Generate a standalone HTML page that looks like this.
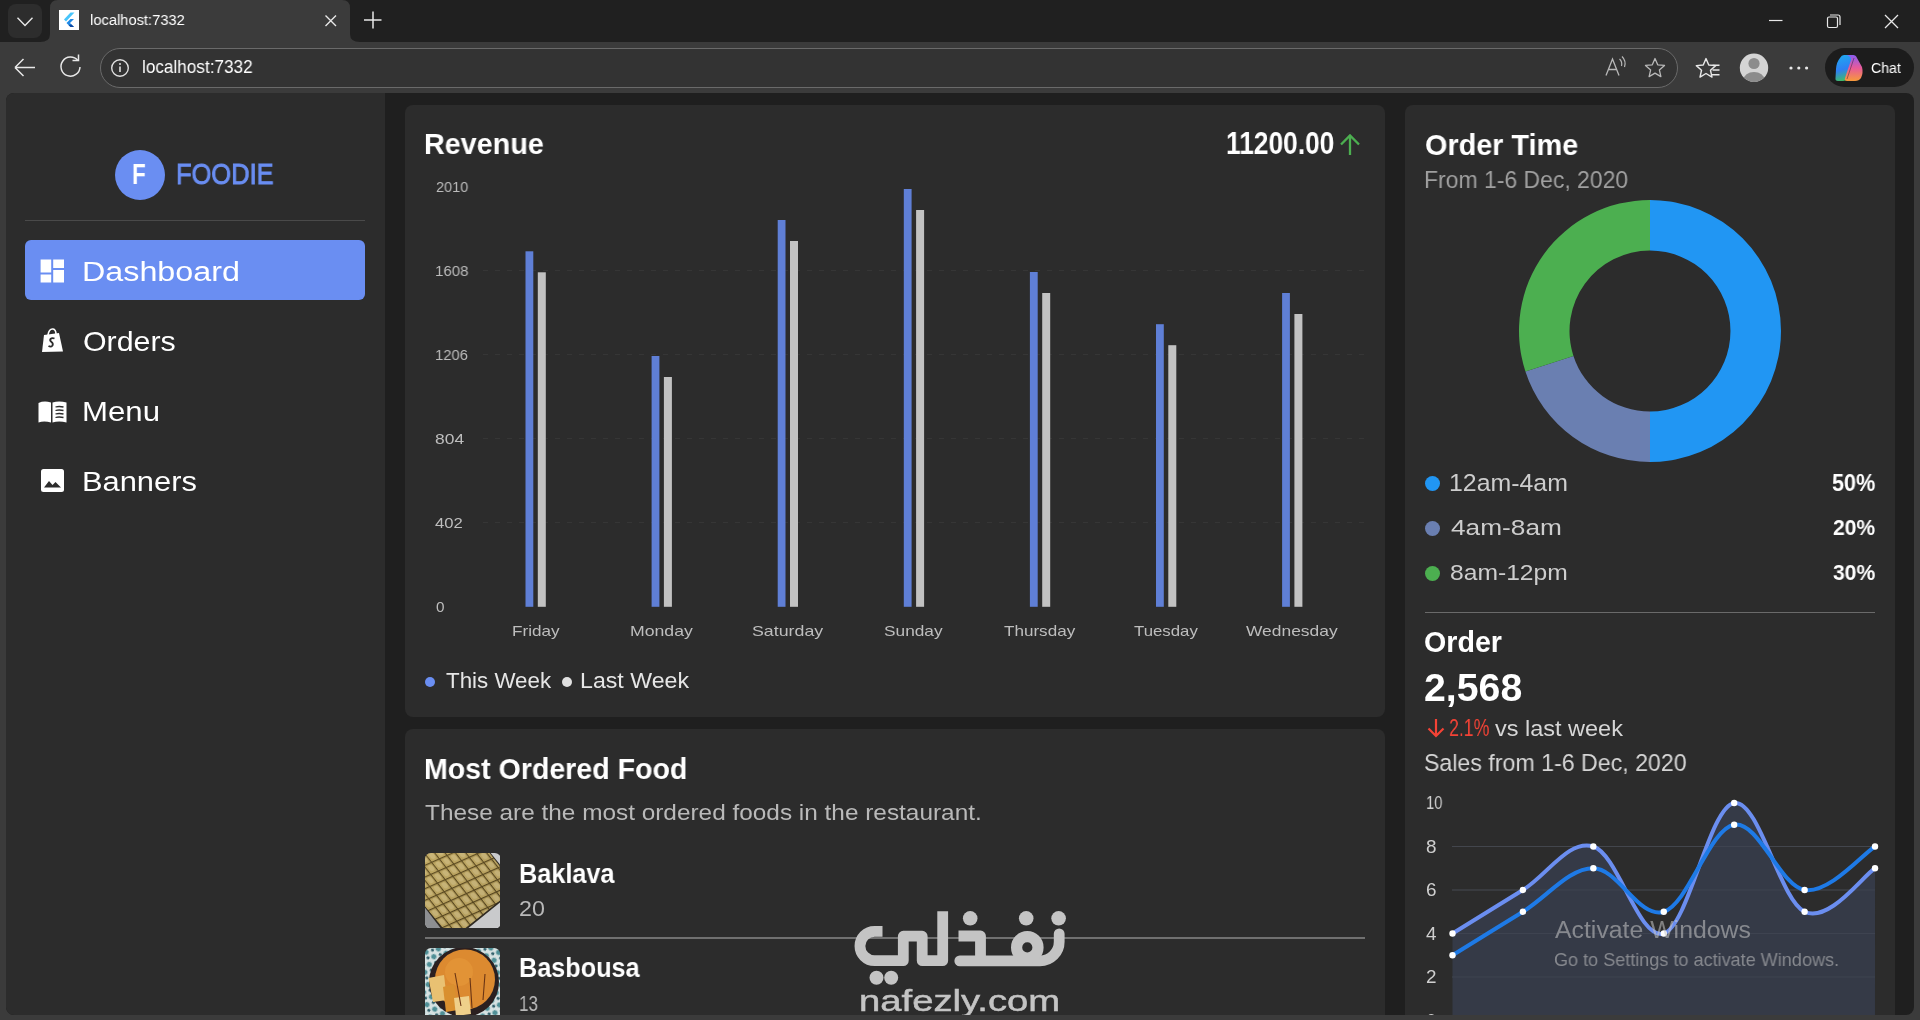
<!DOCTYPE html>
<html><head><meta charset="utf-8"><style>
html,body{margin:0;padding:0;width:1920px;height:1020px;overflow:hidden;background:#3b3b3b}
body{font-family:"Liberation Sans",sans-serif;position:relative}
.abs{position:absolute}
.t{position:absolute;white-space:nowrap;transform-origin:0 0;will-change:transform}
svg{display:block}
</style></head><body>
<div class="abs" style="left:0;top:0;width:1920px;height:42px;background:#202020"></div>
<div class="abs" style="left:0;top:42px;width:1920px;height:978px;background:#3b3b3b"></div>
<div class="abs" style="left:8px;top:4px;width:34px;height:34px;border-radius:8px;background:#2d2d2d"></div>
<svg class="abs" style="left:0;top:0" width="60" height="42"><path d="M17.5 17.8 L25 25.5 L32.5 17.8" fill="none" stroke="#e8e8e8" stroke-width="1.4"/></svg>
<svg class="abs" style="left:40px;top:0" width="320" height="42"><path d="M0 42 Q10 42 10 34 L10 8 Q10 0 18 0 L302 0 Q310 0 310 8 L310 34 Q310 42 320 42 Z" fill="#3b3b3b"/></svg>
<div class="abs" style="left:59px;top:10px;width:20px;height:20px;background:#fff"></div>
<svg class="abs" style="left:59px;top:10px" width="20" height="20"><path d="M11.5 2.5 L5 9.5 L7 11.5 L15.5 2.5 Z" fill="#47c5fb"/><path d="M11.5 9 L7.5 13 L11.5 17 L15 17 L11 13 L15 9 Z" fill="#1e88e5"/><path d="M9.5 15 L11.5 17 L15 17 L12.5 14.5 Z" fill="#0d47a1"/></svg>
<div class="t" id="t0" style="left:90.20px;top:11.99px;font-size:15.36px;line-height:15.36px;color:#ffffff;transform:scaleX(0.9568);">localhost:7332</div>
<svg class="abs" style="left:320px;top:10px" width="22" height="22"><path d="M5.5 5.5 L16 16 M16 5.5 L5.5 16" stroke="#e8e8e8" stroke-width="1.4"/></svg>
<svg class="abs" style="left:360px;top:8px" width="26" height="26"><path d="M13 3.5 V20.5 M4 12 H21.5" stroke="#e8e8e8" stroke-width="1.5"/></svg>
<svg class="abs" style="left:1760px;top:8px" width="150" height="28"><path d="M9 12.5 H22.5" stroke="#e8e8e8" stroke-width="1.2"/><rect x="67.5" y="9" width="10" height="10.5" rx="1.5" fill="none" stroke="#e8e8e8" stroke-width="1.2"/><path d="M70 7 H78 Q80 7 80 9 V17" fill="none" stroke="#e8e8e8" stroke-width="1.2"/><path d="M125 7 L138 20 M138 7 L125 20" stroke="#e8e8e8" stroke-width="1.3"/></svg>
<svg class="abs" style="left:10px;top:52px" width="30" height="30"><path d="M5 15.5 H25 M5 15.5 L13.5 7 M5 15.5 L13.5 24" fill="none" stroke="#e8e8e8" stroke-width="1.5"/></svg>
<svg class="abs" style="left:56px;top:54px" width="30" height="30"><path d="M21.8 6.5 A9.5 9.5 0 1 0 24 13" fill="none" stroke="#e8e8e8" stroke-width="1.5"/><path d="M16.5 6.5 H22.5 V0.5" fill="none" stroke="#e8e8e8" stroke-width="1.5"/></svg>
<div class="abs" style="left:100px;top:48px;width:1576px;height:38px;border-radius:20px;background:#333333;border:1px solid #6a6a6a"></div>
<svg class="abs" style="left:108px;top:56px" width="24" height="24"><circle cx="12" cy="12" r="8.3" fill="none" stroke="#e0e0e0" stroke-width="1.4"/><path d="M12 10.5 V16" stroke="#e0e0e0" stroke-width="1.6"/><circle cx="12" cy="8" r="1" fill="#e0e0e0"/></svg>
<div class="t" id="t1" style="left:142.40px;top:58.10px;font-size:18.66px;line-height:18.66px;color:#ffffff;transform:scaleX(0.9194);">localhost:7332</div>
<svg class="abs" style="left:1600px;top:54px" width="30" height="26"><path d="M6 21.5 L12.5 5 L19 21.5 M8.3 15.5 H16.7" fill="none" stroke="#b8b8b8" stroke-width="1.3"/><path d="M19.5 5 Q22.5 7.5 21.5 12 M22 2.5 Q26.5 7 24.5 13" fill="none" stroke="#b8b8b8" stroke-width="1.2"/></svg>
<svg class="abs" style="left:1640px;top:53px" width="30" height="30"><polygon points="15.00,5.50 17.70,11.78 24.51,12.41 19.37,16.92 20.88,23.59 15.00,20.10 9.12,23.59 10.63,16.92 5.49,12.41 12.30,11.78" fill="none" stroke="#b8b8b8" stroke-width="1.3" stroke-linejoin="round"/></svg>
<svg class="abs" style="left:1694px;top:53px" width="32" height="30"><polygon points="12.00,5.60 14.76,12.00 21.70,12.65 16.47,17.25 18.00,24.05 12.00,20.50 6.00,24.05 7.53,17.25 2.30,12.65 9.24,12.00" fill="none" stroke="#e8e8e8" stroke-width="1.4" stroke-linejoin="round"/><path d="M18.5 12.3 H25.5 M18.5 17 H25.5 M17.5 21.8 H25.5" stroke="#e8e8e8" stroke-width="1.4"/></svg>
<svg class="abs" style="left:1739px;top:53px" width="30" height="30"><defs><clipPath id="avc"><circle cx="15" cy="14.8" r="14.2"/></clipPath></defs><circle cx="15" cy="14.8" r="14.2" fill="#d4d4d4"/><g clip-path="url(#avc)"><circle cx="15" cy="10.5" r="5.6" fill="#8c8c8c"/><ellipse cx="15" cy="27" rx="10.5" ry="8" fill="#8c8c8c"/></g></svg>
<svg class="abs" style="left:1786px;top:60px" width="26" height="16"><circle cx="5" cy="8" r="1.6" fill="#e8e8e8"/><circle cx="12.8" cy="8" r="1.6" fill="#e8e8e8"/><circle cx="20.6" cy="8" r="1.6" fill="#e8e8e8"/></svg>
<div class="abs" style="left:1825px;top:48px;width:89px;height:39px;border-radius:20px;background:#1c1c1c"></div>
<svg class="abs" style="left:1833px;top:53px" width="32" height="30"><defs><linearGradient id="cg1" x1="0.3" y1="0" x2="0.5" y2="1"><stop offset="0" stop-color="#1fa8f0"/><stop offset="0.55" stop-color="#2f7ff2"/><stop offset="1" stop-color="#3fc060"/></linearGradient><linearGradient id="cg2" x1="0.5" y1="0" x2="0.5" y2="1"><stop offset="0" stop-color="#8a5cf0"/><stop offset="0.5" stop-color="#e85a9a"/><stop offset="1" stop-color="#f79a3a"/></linearGradient></defs><path d="M11 2 H19 Q22 2 21 5 L14 26 Q13 28 10 28 H5 Q2 28 2.5 25 L3 16 Q3.5 9 7 5 Q8.5 2 11 2 Z" fill="url(#cg1)"/><path d="M14 2 H20 Q23 2 24 5 L29 14 Q30.5 20 28 25 Q26 28 22 28 H14 Q11 28 12 25 L18 7 Q18.5 4 14 2 Z" fill="url(#cg2)"/><path d="M21 5 L14 26" stroke="#1c1c1c" stroke-width="0.8" opacity="0.5"/></svg>
<div class="t" id="t2" style="left:1870.80px;top:60.70px;font-size:14.53px;line-height:14.53px;color:#ffffff;transform:scaleX(0.9719);">Chat</div>
<div class="abs" style="left:6px;top:93px;width:1908px;height:922px;border-radius:8px;overflow:hidden;background:#1f1f1f">
<div id="vp" class="abs" style="left:-6px;top:-93px;width:1920px;height:1020px">
<div class="abs" style="left:6px;top:93px;width:379px;height:927px;background:#2c2c2c"></div>
<div class="abs" style="left:115px;top:150px;width:50px;height:50px;border-radius:25px;background:#6a8ef2"></div>
<div class="t" id="t3" style="left:132.40px;top:160.39px;font-size:29.07px;line-height:29.07px;color:#ffffff;font-weight:700;transform:scaleX(0.7757);">F</div>
<div class="t" id="t4" style="left:176.40px;top:160.39px;font-size:29.07px;line-height:29.07px;color:#6a8ef2;transform:scaleX(0.8760);-webkit-text-stroke:0.9px #6a8ef2;">FOODIE</div>
<div class="abs" style="left:25px;top:219.5px;width:340px;height:1px;background:#4a4a4a"></div>
<div class="abs" style="left:25px;top:240px;width:340px;height:60px;border-radius:6px;background:#6a8ef2"></div>
<svg class="abs" style="left:40px;top:259px" width="25" height="24"><rect x="0.6" y="0.5" width="10.6" height="13" fill="#fff"/><rect x="13.2" y="0.5" width="10.8" height="8.5" fill="#fff"/><rect x="0.6" y="15.5" width="10.6" height="8" fill="#fff"/><rect x="13.2" y="11" width="10.8" height="12.5" fill="#fff"/></svg>
<div class="t" id="t5" style="left:82.20px;top:257.62px;font-size:27.62px;line-height:27.62px;color:#ffffff;transform:scaleX(1.1688);">Dashboard</div>
<svg class="abs" style="left:40px;top:327px" width="26" height="27"><path d="M4 8 L19 6 L23 24.5 L2 25 Z" fill="#fff"/><path d="M8 8 Q9 1.5 13 2 Q16 2.5 16 7.5" fill="none" stroke="#fff" stroke-width="1.6"/><path d="M14.5 11.5 Q12 10.5 10.5 12 Q9.5 13.5 11.5 15 Q13.5 16.5 12.5 18.5 Q11 20.5 8.5 19" fill="none" stroke="#2c2c2c" stroke-width="1.8"/></svg>
<div class="t" id="t6" style="left:83.20px;top:327.00px;font-size:28.34px;line-height:28.34px;color:#ffffff;transform:scaleX(1.0717);">Orders</div>
<svg class="abs" style="left:37px;top:399px" width="31" height="26"><path d="M1.5 4 Q7 1.5 14 3.5 V23.5 Q7 21.5 1.5 23.5 Z" fill="#fff"/><path d="M15.5 3.5 Q22 1.5 29.5 3.5 V23.5 Q22 21.5 15.5 23.5 Z" fill="#fff"/><path d="M18.5 8 Q22 7 26.5 8 M18.5 11.5 Q22 10.5 26.5 11.5 M18.5 15 Q22 14 26.5 15 M18.5 18.5 Q22 17.5 26.5 18.5" fill="none" stroke="#2c2c2c" stroke-width="1.3"/></svg>
<div class="t" id="t7" style="left:82.20px;top:397.62px;font-size:27.62px;line-height:27.62px;color:#ffffff;transform:scaleX(1.1288);">Menu</div>
<svg class="abs" style="left:40px;top:468px" width="25" height="25"><rect x="1" y="1" width="23" height="23" rx="2.5" fill="#fff"/><path d="M4 19.5 L9 13 L12.5 17 L15.5 14 L21 19.5 Z" fill="#2c2c2c"/></svg>
<div class="t" id="t8" style="left:82.20px;top:467.62px;font-size:27.62px;line-height:27.62px;color:#ffffff;transform:scaleX(1.1168);">Banners</div>
<div class="abs" style="left:405px;top:105px;width:980px;height:612px;border-radius:8px;background:#2c2c2c"></div>
<div class="t" id="t9" style="left:424.20px;top:130.06px;font-size:29.22px;line-height:29.22px;color:#ffffff;font-weight:700;transform:scaleX(0.9842);">Revenue</div>
<div class="t" id="t10" style="left:1226.20px;top:128.61px;font-size:30.81px;line-height:30.81px;color:#ffffff;font-weight:700;transform:scaleX(0.8549);">11200.00</div>
<svg class="abs" style="left:1336px;top:130px" width="28" height="30"><path d="M14 25 V6 M5 14.5 L14 5.5 L23 14.5" fill="none" stroke="#4caf50" stroke-width="2.3"/></svg>
<svg class="abs" style="left:405px;top:105px" width="980" height="612"><line x1="78.0" y1="165.5" x2="960.0" y2="165.5" stroke="#363636" stroke-width="1" stroke-dasharray="5 7"/><line x1="78.0" y1="249.5" x2="960.0" y2="249.5" stroke="#363636" stroke-width="1" stroke-dasharray="5 7"/><line x1="78.0" y1="333.5" x2="960.0" y2="333.5" stroke="#363636" stroke-width="1" stroke-dasharray="5 7"/><line x1="78.0" y1="417.5" x2="960.0" y2="417.5" stroke="#363636" stroke-width="1" stroke-dasharray="5 7"/><rect x="120.50" y="146.30" width="7.8" height="355.50" fill="#5f7fd6"/><rect x="132.80" y="167.30" width="8" height="334.50" fill="#c2c2c2"/><rect x="246.60" y="251.00" width="7.8" height="250.80" fill="#5f7fd6"/><rect x="258.90" y="272.00" width="8" height="229.80" fill="#c2c2c2"/><rect x="372.70" y="115.00" width="7.8" height="386.80" fill="#5f7fd6"/><rect x="385.00" y="136.00" width="8" height="365.80" fill="#c2c2c2"/><rect x="498.80" y="84.00" width="7.8" height="417.80" fill="#5f7fd6"/><rect x="511.10" y="105.00" width="8" height="396.80" fill="#c2c2c2"/><rect x="624.90" y="167.00" width="7.8" height="334.80" fill="#5f7fd6"/><rect x="637.20" y="188.00" width="8" height="313.80" fill="#c2c2c2"/><rect x="751.00" y="219.20" width="7.8" height="282.60" fill="#5f7fd6"/><rect x="763.30" y="240.20" width="8" height="261.60" fill="#c2c2c2"/><rect x="877.10" y="188.00" width="7.8" height="313.80" fill="#5f7fd6"/><rect x="889.40" y="209.00" width="8" height="292.80" fill="#c2c2c2"/></svg>
<div class="t" id="t11" style="left:435.70px;top:179.05px;font-size:15.30px;line-height:15.30px;color:#bdbdbd;transform:scaleX(0.9488);">2010</div>
<div class="t" id="t12" style="left:435.20px;top:263.05px;font-size:15.30px;line-height:15.30px;color:#bdbdbd;transform:scaleX(0.9841);">1608</div>
<div class="t" id="t13" style="left:435.20px;top:347.05px;font-size:15.30px;line-height:15.30px;color:#bdbdbd;transform:scaleX(0.9694);">1206</div>
<div class="t" id="t14" style="left:435.20px;top:431.05px;font-size:15.30px;line-height:15.30px;color:#bdbdbd;transform:scaleX(1.1403);">804</div>
<div class="t" id="t15" style="left:435.20px;top:515.05px;font-size:15.30px;line-height:15.30px;color:#bdbdbd;transform:scaleX(1.0893);">402</div>
<div class="t" id="t16" style="left:435.90px;top:599.05px;font-size:15.30px;line-height:15.30px;color:#bdbdbd;transform:scaleX(0.9522);">0</div>
<div class="t" id="t17" style="left:511.60px;top:623.52px;font-size:14.97px;line-height:14.97px;color:#bdbdbd;transform:scaleX(1.1450);">Friday</div>
<div class="t" id="t18" style="left:629.80px;top:623.52px;font-size:14.97px;line-height:14.97px;color:#bdbdbd;transform:scaleX(1.1793);">Monday</div>
<div class="t" id="t19" style="left:752.20px;top:623.52px;font-size:14.97px;line-height:14.97px;color:#bdbdbd;transform:scaleX(1.1888);">Saturday</div>
<div class="t" id="t20" style="left:884.00px;top:623.52px;font-size:14.97px;line-height:14.97px;color:#bdbdbd;transform:scaleX(1.1543);">Sunday</div>
<div class="t" id="t21" style="left:1003.80px;top:623.52px;font-size:14.97px;line-height:14.97px;color:#bdbdbd;transform:scaleX(1.1411);">Thursday</div>
<div class="t" id="t22" style="left:1134.00px;top:623.52px;font-size:14.97px;line-height:14.97px;color:#bdbdbd;transform:scaleX(1.1222);">Tuesday</div>
<div class="t" id="t23" style="left:1246.20px;top:623.52px;font-size:14.97px;line-height:14.97px;color:#bdbdbd;transform:scaleX(1.1626);">Wednesday</div>
<div class="abs" style="left:425px;top:677px;width:10px;height:10px;border-radius:5px;background:#6a8ef2"></div>
<div class="t" id="t24" style="left:445.60px;top:669.97px;font-size:22.24px;line-height:22.24px;color:#e6e6e6;transform:scaleX(1.0050);">This Week</div>
<div class="abs" style="left:562px;top:677px;width:10px;height:10px;border-radius:5px;background:#e0e0e0"></div>
<div class="t" id="t25" style="left:580.00px;top:669.97px;font-size:22.24px;line-height:22.24px;color:#e6e6e6;transform:scaleX(1.0414);">Last Week</div>
<div class="abs" style="left:405px;top:729px;width:980px;height:400px;border-radius:8px;background:#2c2c2c"></div>
<div class="t" id="t26" style="left:423.60px;top:753.62px;font-size:29.51px;line-height:29.51px;color:#ffffff;font-weight:700;transform:scaleX(0.9681);">Most Ordered Food</div>
<div class="t" id="t27" style="left:425.00px;top:802.59px;font-size:21.51px;line-height:21.51px;color:#b9b9b9;transform:scaleX(1.1334);">These are the most ordered foods in the restaurant.</div>
<svg class="abs" style="left:424.6px;top:852.6px" width="75.8" height="75.8"><defs><clipPath id="fi1"><rect width="75.8" height="75.8" rx="6"/></clipPath><pattern id="bkp" width="11" height="8.2" patternUnits="userSpaceOnUse" patternTransform="rotate(52) skewX(-14)"><rect width="11" height="8.2" fill="#c9b16c"/><ellipse cx="5.8" cy="4.3" rx="3.6" ry="2.4" fill="#e0cd95" opacity="0.75"/><path d="M0 0.6 H11 M0.6 0 V8.2" stroke="#4d3d1b" stroke-width="1.3"/></pattern><linearGradient id="bkg" x1="0" y1="0" x2="1" y2="1"><stop offset="0" stop-color="#a08a40" stop-opacity="0.25"/><stop offset="1" stop-color="#5a4a20" stop-opacity="0.2"/></linearGradient></defs><g clip-path="url(#fi1)"><rect width="75.8" height="75.8" fill="#c9cacc"/><path d="M0 50 L20 76 L0 76 Z" fill="#8d8f92"/><polygon points="-2,-2 64,-2 77,14 77,48 41,77 17,77 -2,52" fill="#2f2a22"/><polygon points="-2,-2 63,-2 75,13.5 75,47.5 40.5,75 18,75 -2,51" fill="url(#bkp)"/><polygon points="-2,-2 63,-2 75,13.5 75,47.5 40.5,75 18,75 -2,51" fill="url(#bkg)"/></g></svg>
<div class="t" id="t28" style="left:519.00px;top:858.50px;font-size:28.34px;line-height:28.34px;color:#ffffff;font-weight:700;transform:scaleX(0.8923);">Baklava</div>
<div class="t" id="t29" style="left:519.00px;top:897.85px;font-size:22.38px;line-height:22.38px;color:#b9b9b9;transform:scaleX(1.0401);">20</div>
<div class="abs" style="left:425px;top:937px;width:940px;height:1.5px;background:#707070"></div>
<svg class="abs" style="left:424.9px;top:947.9px" width="75.1" height="75"><defs><clipPath id="fi2"><rect width="75.1" height="75" rx="6"/></clipPath><pattern id="bsp" width="9" height="9" patternUnits="userSpaceOnUse" patternTransform="rotate(30)"><rect width="9" height="9" fill="#d6e2e2"/><circle cx="3" cy="3" r="2.6" fill="#4f8f96"/><circle cx="7.5" cy="7" r="1.6" fill="#2f5f6a"/></pattern></defs><g clip-path="url(#fi2)"><rect width="75.1" height="75" fill="url(#bsp)"/><circle cx="39" cy="34" r="35" fill="#2b2020"/><circle cx="40" cy="31.5" r="30" fill="#dc8a30"/><circle cx="34" cy="24" r="14" fill="#e69a3a" opacity="0.6"/><path d="M3.5 30 L19 27 L22 52 L8 54 Z" fill="#e9c172"/><path d="M18 39 L29 36 L33 62 L21 64 Z" fill="#d9902f"/><path d="M29 50 L44 48 L46 66 L31 68 Z" fill="#efd08a"/><path d="M30 25 L36 58 M45 30 L47 60 M60 26 L58 52" stroke="#6a3414" stroke-width="1.1"/></g></svg>
<div class="t" id="t30" style="left:519.00px;top:954.73px;font-size:26.89px;line-height:26.89px;color:#ffffff;font-weight:700;transform:scaleX(0.9387);">Basbousa</div>
<div class="t" id="t31" style="left:519.00px;top:992.67px;font-size:22.24px;line-height:22.24px;color:#b9b9b9;transform:scaleX(0.7707);">13</div>
<div class="abs" style="left:1405px;top:105px;width:490px;height:1000px;border-radius:8px;background:#2c2c2c"></div>
<div class="t" id="t32" style="left:1424.80px;top:130.02px;font-size:29.51px;line-height:29.51px;color:#ffffff;font-weight:700;transform:scaleX(0.9766);">Order Time</div>
<div class="t" id="t33" style="left:1423.80px;top:167.57px;font-size:24.13px;line-height:24.13px;color:#a0a0a0;transform:scaleX(0.9518);">From 1-6 Dec, 2020</div>
<svg class="abs" style="left:0;top:0" width="1920" height="1020"><path d="M1650.00 200.00 A131.00 131.00 0 0 1 1650.00 462.00 L1650.00 411.50 A80.50 80.50 0 0 0 1650.00 250.50 Z" fill="#2196f3"/><path d="M1650.00 462.00 A131.00 131.00 0 0 1 1525.41 371.48 L1573.44 355.88 A80.50 80.50 0 0 0 1650.00 411.50 Z" fill="#6a7fb1"/><path d="M1525.41 371.48 A131.00 131.00 0 0 1 1650.00 200.00 L1650.00 250.50 A80.50 80.50 0 0 0 1573.44 355.88 Z" fill="#4caf50"/></svg>
<div class="abs" style="left:1425px;top:475.5px;width:15px;height:15px;border-radius:8px;background:#2196f3"></div>
<div class="t" id="t34" style="left:1449.00px;top:471.73px;font-size:23.11px;line-height:23.11px;color:#cdcdcd;transform:scaleX(1.0760);">12am-4am</div>
<div class="t" id="t35" style="left:1831.60px;top:471.73px;font-size:23.11px;line-height:23.11px;color:#ffffff;font-weight:700;transform:scaleX(0.9356);">50%</div>
<div class="abs" style="left:1425px;top:520.5px;width:15px;height:15px;border-radius:8px;background:#6a7fb1"></div>
<div class="t" id="t36" style="left:1451.00px;top:517.49px;font-size:22.09px;line-height:22.09px;color:#cdcdcd;transform:scaleX(1.1897);">4am-8am</div>
<div class="t" id="t37" style="left:1832.60px;top:517.49px;font-size:22.09px;line-height:22.09px;color:#ffffff;font-weight:700;transform:scaleX(0.9548);">20%</div>
<div class="abs" style="left:1425px;top:565.5px;width:15px;height:15px;border-radius:8px;background:#4caf50"></div>
<div class="t" id="t38" style="left:1450.00px;top:562.17px;font-size:22.24px;line-height:22.24px;color:#cdcdcd;transform:scaleX(1.1085);">8am-12pm</div>
<div class="t" id="t39" style="left:1832.60px;top:562.17px;font-size:22.24px;line-height:22.24px;color:#ffffff;font-weight:700;transform:scaleX(0.9486);">30%</div>
<div class="abs" style="left:1425px;top:611.5px;width:450px;height:1.5px;background:#6a6a6a"></div>
<div class="t" id="t40" style="left:1424.40px;top:628.46px;font-size:28.63px;line-height:28.63px;color:#ffffff;font-weight:700;transform:scaleX(0.9954);">Order</div>
<div class="t" id="t41" style="left:1424.00px;top:667.77px;font-size:39.24px;line-height:39.24px;color:#ffffff;font-weight:700;transform:scaleX(1.0004);">2,568</div>
<svg class="abs" style="left:1424px;top:716px" width="24" height="24"><path d="M12 3 V20 M4.5 12.5 L12 20 L19.5 12.5" fill="none" stroke="#f44336" stroke-width="2.2"/></svg>
<div class="t" id="t42" style="left:1448.80px;top:715.57px;font-size:24.13px;line-height:24.13px;color:#f44336;transform:scaleX(0.7354);">2.1%</div>
<div class="t" id="t43" style="left:1495.00px;top:716.72px;font-size:22.77px;line-height:22.77px;color:#d6d6d6;transform:scaleX(1.0318);">vs last week</div>
<div class="t" id="t44" style="left:1424.40px;top:750.57px;font-size:24.13px;line-height:24.13px;color:#d6d6d6;transform:scaleX(0.9599);">Sales from 1-6 Dec, 2020</div>
<svg class="abs" style="left:0;top:0" width="1920" height="1020"><line x1="1452" y1="846.50" x2="1875" y2="846.50" stroke="#404040" stroke-width="1"/><line x1="1452" y1="890.00" x2="1875" y2="890.00" stroke="#404040" stroke-width="1"/><line x1="1452" y1="933.50" x2="1875" y2="933.50" stroke="#404040" stroke-width="1"/><line x1="1452" y1="977.00" x2="1875" y2="977.00" stroke="#404040" stroke-width="1"/><path d="M1452.50 933.50 C1452.50 933.50 1498.27 905.23 1522.92 890.00 C1547.57 874.77 1568.69 838.89 1593.34 846.50 C1617.99 854.11 1639.11 941.11 1663.76 933.50 C1688.41 925.89 1709.53 806.81 1734.18 803.00 C1758.83 799.19 1779.95 900.33 1804.60 911.75 C1829.25 923.17 1862.70 875.86 1875.02 868.25 L1875 1020 L1452.5 1020 Z" fill="#353a47"/><line x1="1452" y1="846.50" x2="1875" y2="846.50" stroke="#454a56" stroke-width="1" opacity="0.6"/><line x1="1452" y1="890.00" x2="1875" y2="890.00" stroke="#454a56" stroke-width="1" opacity="0.6"/><line x1="1452" y1="933.50" x2="1875" y2="933.50" stroke="#454a56" stroke-width="1" opacity="0.6"/><line x1="1452" y1="977.00" x2="1875" y2="977.00" stroke="#454a56" stroke-width="1" opacity="0.6"/><path d="M1452.50 933.50 C1452.50 933.50 1498.27 905.23 1522.92 890.00 C1547.57 874.77 1568.69 838.89 1593.34 846.50 C1617.99 854.11 1639.11 941.11 1663.76 933.50 C1688.41 925.89 1709.53 806.81 1734.18 803.00 C1758.83 799.19 1779.95 900.33 1804.60 911.75 C1829.25 923.17 1862.70 875.86 1875.02 868.25" fill="none" stroke="#6b8ef0" stroke-width="4" stroke-linecap="round"/><path d="M1452.50 955.25 C1452.50 955.25 1498.27 926.98 1522.92 911.75 C1547.57 896.52 1568.69 868.25 1593.34 868.25 C1617.99 868.25 1639.11 919.36 1663.76 911.75 C1688.41 904.14 1709.53 828.56 1734.18 824.75 C1758.83 820.94 1779.95 886.19 1804.60 890.00 C1829.25 893.81 1862.70 854.11 1875.02 846.50" fill="none" stroke="#1e7ae6" stroke-width="4" stroke-linecap="round"/><circle cx="1452.50" cy="933.50" r="3.2" fill="#ffffff"/><circle cx="1522.92" cy="890.00" r="3.2" fill="#ffffff"/><circle cx="1593.34" cy="846.50" r="3.2" fill="#ffffff"/><circle cx="1663.76" cy="933.50" r="3.2" fill="#ffffff"/><circle cx="1734.18" cy="803.00" r="3.2" fill="#ffffff"/><circle cx="1804.60" cy="911.75" r="3.2" fill="#ffffff"/><circle cx="1875.02" cy="868.25" r="3.2" fill="#ffffff"/><circle cx="1452.50" cy="955.25" r="3.2" fill="#ffffff"/><circle cx="1522.92" cy="911.75" r="3.2" fill="#ffffff"/><circle cx="1593.34" cy="868.25" r="3.2" fill="#ffffff"/><circle cx="1663.76" cy="911.75" r="3.2" fill="#ffffff"/><circle cx="1734.18" cy="824.75" r="3.2" fill="#ffffff"/><circle cx="1804.60" cy="890.00" r="3.2" fill="#ffffff"/><circle cx="1875.02" cy="846.50" r="3.2" fill="#ffffff"/></svg>
<div class="t" id="t45" style="left:1425.50px;top:794.09px;font-size:18.20px;line-height:18.20px;color:#cfcfcf;transform:scaleX(0.8153);">10</div>
<div class="t" id="t46" style="left:1425.50px;top:837.59px;font-size:18.20px;line-height:18.20px;color:#cfcfcf;transform:scaleX(1.0376);">8</div>
<div class="t" id="t47" style="left:1425.50px;top:881.09px;font-size:18.20px;line-height:18.20px;color:#cfcfcf;transform:scaleX(1.0376);">6</div>
<div class="t" id="t48" style="left:1425.50px;top:924.59px;font-size:18.20px;line-height:18.20px;color:#cfcfcf;transform:scaleX(1.0376);">4</div>
<div class="t" id="t49" style="left:1425.50px;top:968.09px;font-size:18.20px;line-height:18.20px;color:#cfcfcf;transform:scaleX(1.0376);">2</div>
<div class="t" id="t50" style="left:1425.50px;top:1011.59px;font-size:18.20px;line-height:18.20px;color:#cfcfcf;transform:scaleX(1.0376);">0</div>
<div class="t" id="t51" style="left:1555.00px;top:919.49px;font-size:23.04px;line-height:23.04px;color:rgba(200,200,200,0.55);transform:scaleX(1.0777);">Activate Windows</div>
<div class="t" id="t52" style="left:1554.00px;top:951.39px;font-size:18.44px;line-height:18.44px;color:rgba(200,200,200,0.55);transform:scaleX(0.9794);">Go to Settings to activate Windows.</div>
<svg class="abs" style="left:0;top:0" width="1920" height="1020"><g fill="none" stroke="#c4c4c4" stroke-width="10.8" stroke-linejoin="round"><path d="M882.5 931.4 H874.6 A14.65 14.65 0 0 0 874.6 960.7 H903.3 V936.2 H922.2 V960.7 H942.7 V911.3"/><path d="M958.5 936 H980.5 V960.9" stroke-linecap="butt"/><path d="M959.8 960.9 H1040 A19.2 19.2 0 0 0 1059.2 941.7 V933.8" stroke-linecap="round"/><circle cx="1027.3" cy="947.4" r="10.7" stroke-width="11.2"/></g><g fill="#c4c4c4"><circle cx="970.2" cy="918.3" r="7.3"/><circle cx="1026.2" cy="918.3" r="7.3"/><circle cx="1058.6" cy="918.3" r="7.3"/><circle cx="876.5" cy="977.8" r="7"/><circle cx="891.2" cy="977.8" r="7"/></g></svg>
<div class="t" id="t53" style="left:859.00px;top:986.19px;font-size:30.37px;line-height:30.37px;color:#c4c4c4;transform:scaleX(1.2598);-webkit-text-stroke:0.5px #c4c4c4;">nafezly.com</div>
</div></div>
</body></html>
